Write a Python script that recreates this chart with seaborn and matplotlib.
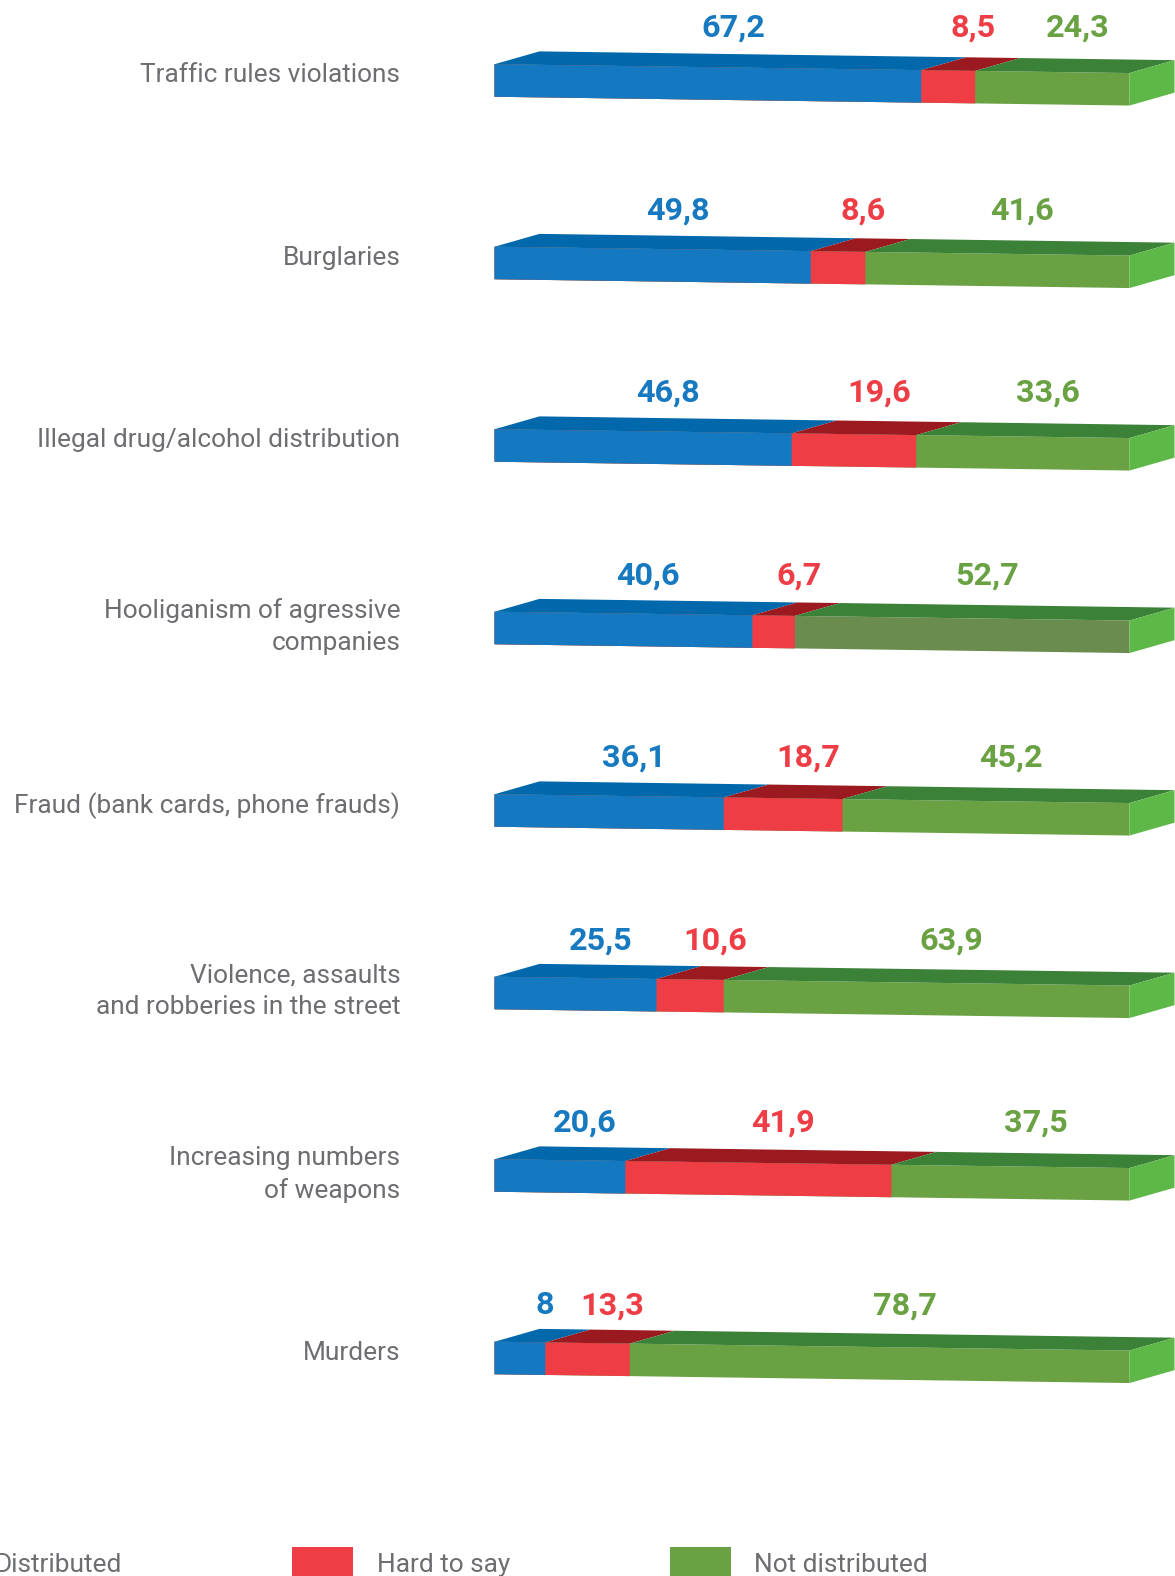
import numpy as np
import pandas as pd
import matplotlib
matplotlib.use("Agg")
import matplotlib.pyplot as plt
import seaborn as sns
from matplotlib.patches import Polygon, Rectangle
from matplotlib.transforms import Affine2D

# ---------------- data ----------------
categories = [
    "Traffic rules violations",
    "Burglaries",
    "Illegal drug/alcohol distribution",
    "Hooliganism of agressive\ncompanies",
    "Fraud (bank cards, phone frauds)",
    "Violence, assaults\nand robberies in the street",
    "Increasing numbers\nof weapons",
    "Murders",
]
distributed = [67.2, 49.8, 46.8, 40.6, 36.1, 25.5, 20.6, 8]
hard_to_say = [8.5, 8.6, 19.6, 6.7, 18.7, 10.6, 41.9, 13.3]
not_distributed = [24.3, 41.6, 33.6, 52.7, 45.2, 63.9, 37.5, 78.7]
series_names = ["Distributed", "Hard to say", "Not distributed"]

# ---------------- styles ----------------
front_colors = ["#1479C1", "#EE3D45", "#6AA143"]
top_colors = ["#0068AB", "#9A1A20", "#3C8138"]
label_colors = ["#1779BF", "#EE3D45", "#6AA143"]
side_color = "#5DB848"
highlight_front = "#6A8C4E"
text_grey = "#6D6E72"

sns.set_theme(style="white")
plt.rcParams["font.family"] = ["Roboto", "DejaVu Sans"]

W, H = 1175, 1576
fig = plt.figure(figsize=(W / 100, H / 100), dpi=100)
x0_px, x1_px = 494.5, 1129.5
ax = fig.add_axes([x0_px / W, 0, (x1_px - x0_px) / W, 1])

n = len(categories)
vals = np.array([distributed, hard_to_say, not_distributed], dtype=float)
cums = np.cumsum(vals, axis=0)
lefts = np.vstack([np.zeros(n), cums[:-1]])
rights = cums

px_x = (x1_px - x0_px) / 100.0   # px per percent
px_y = 182.5                      # px per category row
bar_h = 32.5 / px_y
shear_k = 8.8 / px_y / 100.0
dx = 45.0 / px_x
dy = 13.5 / px_y

# front faces: overlapping cumulative bars drawn back to front
for k in [2, 1, 0]:
    dfk = pd.DataFrame({"category": categories, "total": rights[k]})
    sns.barplot(data=dfk, x="total", y="category", order=categories,
                color=front_colors[k], width=bar_h, saturation=1,
                errorbar=None, linewidth=0, orient="y", ax=ax)
    if k == 2:
        ax.patches[categories.index("Hooliganism of agressive\ncompanies")].set_facecolor(highlight_front)

shear = Affine2D(np.array([[1, 0, 0], [shear_k, 1, 0], [0, 0, 1]]))
tr = shear + ax.transData
for p in ax.patches:
    p.set_transform(tr)
    p.set_clip_on(False)

# top faces and side face
for i in range(n):
    yt = i - bar_h / 2
    for k in range(3):
        l, r = lefts[k][i], rights[k][i]
        poly = Polygon([(l, yt), (r, yt), (r + dx, yt - dy), (l + dx, yt - dy)],
                       closed=True, facecolor=top_colors[k], edgecolor="none",
                       transform=tr, clip_on=False)
        ax.add_patch(poly)
    end = rights[2][i]
    side = Polygon([(end, yt), (end + dx, yt - dy), (end + dx, yt + bar_h - dy), (end, yt + bar_h)],
                   closed=True, facecolor=side_color, edgecolor="none",
                   transform=tr, clip_on=False)
    ax.add_patch(side)

# value labels
for i in range(n):
    for k in range(3):
        v = vals[k][i]
        txt = f"{v:g}".replace(".", ",")
        xc = (lefts[k][i] + rights[k][i]) / 2 + 25.0 / px_x
        ax.text(xc, i - 43.5 / px_y, txt, ha="center", va="baseline",
                fontsize=23.3, fontweight="bold", color=label_colors[k], clip_on=False)

ax.set_xlim(0, 100)
ax.set_ylim((H - 80.5) / px_y, -80.5 / px_y)
ax.set_yticks(np.arange(n) - 8.0 / px_y)
ax.set_yticklabels(categories, fontsize=18.9, color=text_grey)
for lbl in ax.get_yticklabels():
    lbl.set_linespacing(1.42)
ax.tick_params(axis="y", length=0, pad=67.8)
ax.set_xticks([])
ax.set_xlabel("")
ax.set_ylabel("")
sns.despine(ax=ax, left=True, bottom=True)
ax.patch.set_alpha(0)

# legend
for k, name in enumerate(series_names):
    sq_left = 292 + 377.5 * (k - 1)
    fig.add_artist(Rectangle((sq_left / W, 1 - (1547 + 61) / H), 61 / W, 61 / H,
                             transform=fig.transFigure, facecolor=front_colors[k],
                             edgecolor="none"))
    fig.text((sq_left + 85 - (5 if k == 0 else 0)) / W, 1 - 1571.6 / H, name,
             ha="left", va="baseline", fontsize=18.9, color=text_grey)

fig.savefig("out.png", dpi=100)
